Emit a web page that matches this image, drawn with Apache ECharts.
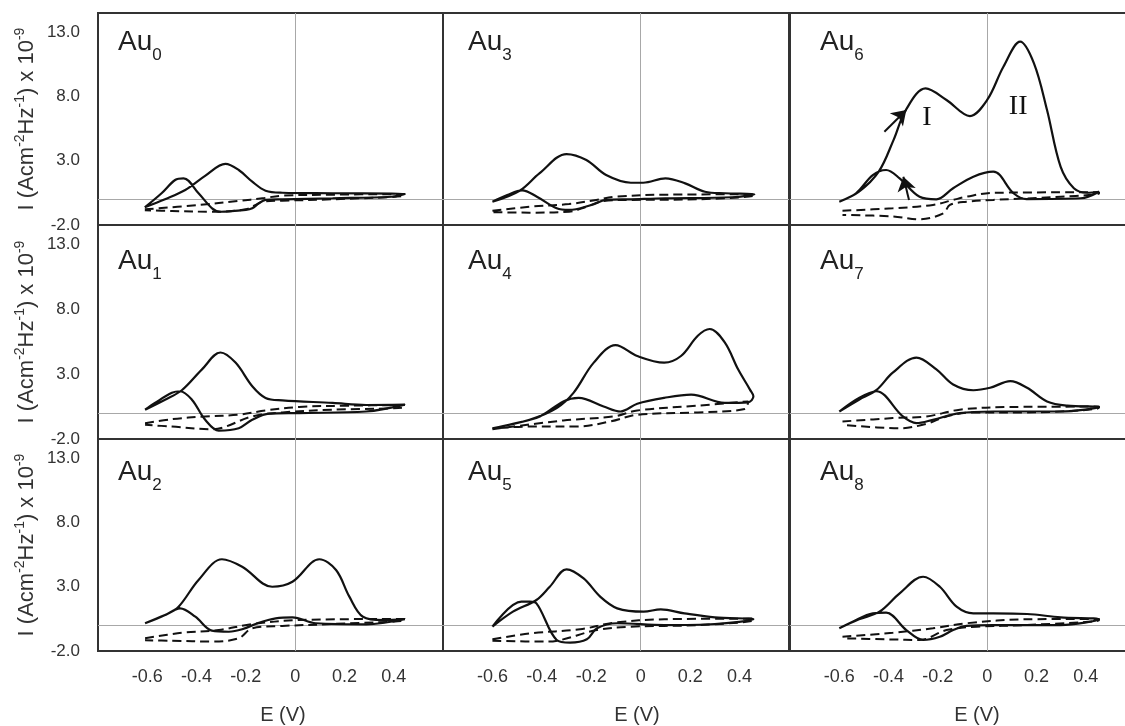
<!DOCTYPE html>
<html><head><meta charset="utf-8">
<script src="https://cdn.jsdelivr.net/npm/echarts@6/dist/echarts.min.js"></script>
<style>html,body{margin:0;padding:0;background:#fff}#c{width:1125px;height:726px}</style>
</head><body><div id="c"></div><script>
// ---- data: [E (V), I x 1e-9] ----
const au0Solid = [[-0.61,-0.62],[-0.528,0.0],[-0.446,0.72],[-0.364,1.84],[-0.283,2.75],[-0.229,2.28],[-0.174,1.37],[-0.12,0.67],[-0.052,0.51],[0.152,0.47],[0.445,0.41],
  [0.39,0.2],[0.152,0.08],[-0.052,0.0],[-0.12,-0.05],[-0.147,-0.31],[-0.174,-0.7],[-0.2,-0.83],[-0.303,-0.97],[-0.337,-0.70],[-0.392,0.47],[-0.453,1.63],[-0.487,1.5],[-0.542,0.47],[-0.61,-0.62]];
const au0Dashed = [[-0.61,-0.78],[-0.392,-0.44],[-0.229,-0.13],[-0.133,0.08],[-0.052,0.28],[0.152,0.36],[0.445,0.41],
  [0.445,0.3],[0.152,0.0],[-0.052,-0.11],[-0.133,-0.19],[-0.16,-0.44],[-0.2,-0.78],[-0.337,-0.97],[-0.5,-0.91],[-0.61,-0.85]];
const au1Solid = [[-0.609,0.26],[-0.528,1.03],[-0.46,1.76],[-0.378,3.37],[-0.303,4.67],[-0.242,3.89],[-0.174,2.07],[-0.12,1.17],[-0.052,0.98],[0.152,0.78],[0.288,0.62],[0.445,0.65],
  [0.288,0.12],[0.016,0.0],[-0.106,-0.05],[-0.174,-0.52],[-0.229,-1.17],[-0.31,-1.35],[-0.365,-0.52],[-0.419,1.03],[-0.467,1.68],[-0.5,1.56],[-0.569,0.78],[-0.609,0.26]];
const au1Dashed = [[-0.609,-0.78],[-0.5,-0.47],[-0.365,-0.26],[-0.229,-0.13],[-0.12,0.2],[0.016,0.47],[0.22,0.57],[0.445,0.62],
  [0.445,0.45],[0.152,0.26],[-0.052,0.05],[-0.174,-0.26],[-0.338,-1.25],[-0.5,-1.04],[-0.609,-0.91]];
const au2Solid = [[-0.609,0.16],[-0.528,0.8],[-0.473,1.45],[-0.392,3.53],[-0.297,5.14],[-0.215,4.56],[-0.093,3.0],[-0.011,3.39],[0.098,5.14],[0.166,4.3],[0.22,2.23],[0.275,0.67],[0.357,0.41],[0.445,0.47],
  [0.288,0.08],[0.084,0.16],[-0.011,0.62],[-0.079,0.54],[-0.147,0.2],[-0.215,-0.31],[-0.269,-0.5],[-0.338,-0.42],[-0.405,0.67],[-0.467,1.32],[-0.528,0.8],[-0.609,0.16]];
const au2Dashed = [[-0.609,-1.01],[-0.46,-0.58],[-0.31,-0.37],[-0.174,0.1],[0.016,0.41],[0.445,0.5],
  [0.445,0.4],[0.152,0.1],[-0.052,-0.05],[-0.174,-0.23],[-0.229,-1.01],[-0.338,-1.27],[-0.5,-1.2],[-0.609,-1.17]];
const au3Solid = [[-0.60,-0.19],[-0.49,0.67],[-0.41,2.02],[-0.30,3.52],[-0.22,3.06],[-0.14,1.89],[-0.04,1.29],[0.01,1.29],[0.10,1.63],[0.18,1.24],[0.26,0.59],[0.34,0.47],[0.46,0.39],
  [0.37,0.16],[0.10,0.08],[-0.04,0.0],[-0.14,-0.05],[-0.20,-0.44],[-0.29,-0.83],[-0.34,-0.70],[-0.42,0.2],[-0.48,0.70],[-0.54,0.33],[-0.60,-0.19]];
const au3Dashed = [[-0.60,-0.89],[-0.45,-0.58],[-0.29,-0.37],[-0.18,-0.05],[-0.10,0.2],[0.10,0.36],[0.46,0.39],
  [0.46,0.30],[0.23,0.0],[-0.04,-0.05],[-0.15,-0.13],[-0.22,-0.58],[-0.29,-0.97],[-0.45,-1.04],[-0.60,-1.0]];
const au4Solid = [[-0.60,-1.17],[-0.45,-0.52],[-0.34,0.39],[-0.272,1.56],[-0.19,3.89],[-0.102,5.24],[-0.014,4.4],[0.095,3.89],[0.163,4.4],[0.231,5.96],[0.279,6.48],[0.34,5.45],[0.394,3.37],[0.442,1.81],[0.456,1.29],
  [0.435,0.83],[0.34,0.78],[0.204,1.42],[0.095,1.17],[-0.014,0.72],[-0.082,0.12],[-0.15,0.51],[-0.251,1.17],[-0.313,0.9],[-0.408,-0.26],[-0.517,-0.83],[-0.60,-1.17]];
const au4Dashed = [[-0.60,-1.25],[-0.313,-0.57],[-0.109,-0.26],[-0.014,0.2],[0.231,0.57],[0.435,0.9],
  [0.421,0.31],[0.231,0.05],[-0.014,-0.13],[-0.123,-0.65],[-0.259,-1.04],[-0.45,-1.04],[-0.60,-1.20]];
const au5Solid = [[-0.60,-0.11],[-0.517,1.06],[-0.422,1.97],[-0.368,3.0],[-0.30,4.36],[-0.231,3.65],[-0.164,2.23],[-0.095,1.32],[0.012,1.06],[0.081,1.24],[0.177,0.93],[0.30,0.62],[0.456,0.47],
  [0.30,0.1],[0.095,0.02],[-0.095,0.16],[-0.177,-0.23],[-0.218,-1.09],[-0.286,-1.35],[-0.34,-1.14],[-0.422,1.71],[-0.449,1.84],[-0.483,1.84],[-0.60,-0.11]];
const au5Dashed = [[-0.60,-1.09],[-0.449,-0.63],[-0.245,-0.31],[-0.109,0.2],[0.095,0.47],[0.456,0.52],
  [0.456,0.40],[0.231,0.02],[-0.041,-0.11],[-0.177,-0.37],[-0.381,-1.27],[-0.60,-1.2]];
const au6Solid = [[-0.60,-0.19],[-0.52,0.59],[-0.44,2.15],[-0.38,4.61],[-0.33,6.95],[-0.25,8.63],[-0.165,7.73],[-0.07,6.48],[0.0,7.73],[0.066,10.32],[0.134,12.27],[0.19,10.58],[0.243,6.95],[0.298,2.54],[0.352,0.86],[0.406,0.51],[0.454,0.59],
  [0.38,0.08],[0.16,0.02],[0.107,0.47],[0.025,2.15],[-0.056,1.76],[-0.138,0.86],[-0.206,0.0],[-0.274,0.2],[-0.355,1.63],[-0.41,2.28],[-0.464,1.89],[-0.532,0.47],[-0.60,-0.19]];
const au6Dashed = [[-0.587,-0.89],[-0.383,-0.70],[-0.22,-0.44],[-0.138,-0.05],[-0.084,0.2],[0.025,0.51],[0.454,0.55],
  [0.454,0.45],[0.298,0.2],[0.025,-0.05],[-0.084,-0.19],[-0.151,-0.44],[-0.178,-1.09],[-0.274,-1.56],[-0.383,-1.33],[-0.587,-1.22]];
const au7Solid = [[-0.60,0.12],[-0.52,1.03],[-0.45,1.76],[-0.383,3.11],[-0.287,4.28],[-0.206,3.37],[-0.138,2.2],[-0.056,1.76],[0.012,1.95],[0.094,2.46],[0.162,1.95],[0.243,0.9],[0.325,0.57],[0.454,0.47],
  [0.298,0.12],[0.025,0.12],[-0.111,0.0],[-0.22,-0.52],[-0.287,-0.78],[-0.342,-0.26],[-0.45,1.68],[-0.52,1.17],[-0.60,0.12]];
const au7Dashed = [[-0.587,-0.65],[-0.383,-0.39],[-0.246,-0.26],[-0.111,0.26],[0.094,0.47],[0.454,0.50],
  [0.454,0.40],[0.162,0.05],[-0.056,0.05],[-0.165,-0.26],[-0.246,-0.83],[-0.355,-1.17],[-0.587,-0.91]];
const au8Solid = [[-0.60,-0.23],[-0.52,0.47],[-0.437,1.06],[-0.355,2.49],[-0.26,3.78],[-0.192,3.0],[-0.124,1.45],[-0.056,0.93],[0.025,0.93],[0.162,0.88],[0.298,0.62],[0.454,0.47],
  [0.298,0.02],[0.025,0.02],[-0.084,-0.05],[-0.138,-0.37],[-0.192,-0.89],[-0.26,-1.14],[-0.328,-0.37],[-0.41,0.98],[-0.464,0.93],[-0.546,0.28],[-0.60,-0.23]];
const au8Dashed = [[-0.587,-0.89],[-0.383,-0.58],[-0.22,-0.23],[-0.084,0.16],[0.162,0.47],[0.454,0.50],
  [0.454,0.40],[0.162,0.02],[-0.043,-0.11],[-0.165,-0.37],[-0.274,-1.14],[-0.41,-1.09],[-0.587,-1.01]];

// Au6 annotations (arrows along scan direction, peak labels)
const au6Arrows = [[[-0.417,5.26],[-0.328,6.95]],[[-0.317,-0.05],[-0.34,1.76]]];
const au6PeakLabels = [['I',-0.244,6.33],['II',0.126,7.18]];

const panelNames = ['0','1','2','3','4','5','6','7','8'];
const solidSets = [au0Solid,au1Solid,au2Solid,au3Solid,au4Solid,au5Solid,au6Solid,au7Solid,au8Solid];
const dashedSets = [au0Dashed,au1Dashed,au2Dashed,au3Dashed,au4Dashed,au5Dashed,au6Dashed,au7Dashed,au8Dashed];
const xTickLabels = [-0.6,-0.4,-0.2,0,0.2,0.4];
const yTickLabels = [-2,3,8,13];

// ---- layout ----
const FONT = 'Liberation Sans, Arial, sans-serif';
const colLeft = [98,443,790], colWidth = [345,346,345];
const rowTop = [13,225,439], rowHeight = [212,214,212];
const labelLeft = [118,468,820], labelTop = [21,240,451];
const eLabelX = [283,637,977];

const grids=[], xAxes=[], yAxes=[], series=[], graphics=[];
for (let k=0;k<9;k++){
  const col = Math.floor(k/3), row = k%3;
  grids.push({left:colLeft[col], top:rowTop[row], width:colWidth[col], height:rowHeight[row],
    outerBoundsMode:'none', containLabel:false,
    show:true, borderColor:'#333', borderWidth:2, backgroundColor:'transparent'});
  xAxes.push({type:'value', gridIndex:k, min:-0.8, max:0.6, interval:0.2,
    axisLine:{show:false}, axisTick:{show:false}, splitLine:{show:false},
    axisLabel:{show: row===2, margin:17, color:'#333', fontSize:18, fontFamily:FONT,
      formatter:v=>{const r=Math.round(v*10)/10; if(!xTickLabels.includes(r)) return ''; return r===0?'0':r.toFixed(1);}}});
  yAxes.push({type:'value', gridIndex:k, min:-2, max:14.5, interval:5,
    axisLine:{show:false}, axisTick:{show:false}, splitLine:{show:false},
    axisLabel:{show: col===0, margin:18, color:'#333', fontSize:17, fontFamily:FONT,
      showMaxLabel:false,
      formatter:v=>yTickLabels.includes(Math.round(v))?v.toFixed(1):''},
    name: col===0 ? 'I (Acm{s|-2}Hz{s|-1}) x 10{s|-9}' : '',
    nameLocation:'middle', nameGap:58, nameRotate:90,
    nameTextStyle:{color:'#333', fontSize:22, fontFamily:FONT,
      rich:{s:{fontSize:14, fontFamily:FONT, color:'#333', padding:[0,0,13,0]}}}});
  series.push({type:'line', xAxisIndex:k, yAxisIndex:k, data:dashedSets[k], smooth:0.35, symbol:'none',
    lineStyle:{color:'#111', width:2, type:[9,5]}, z:3,
    markLine:{silent:true, symbol:'none', label:{show:false}, z:1,
      lineStyle:{color:'#a8a8a8', width:1, type:'solid'}, data:[{yAxis:0},{xAxis:0}]}});
  const s = {type:'line', xAxisIndex:k, yAxisIndex:k, data:solidSets[k], smooth:0.35, symbol:'none',
    lineStyle:{color:'#111', width:2.2}, z:4};
  if (k===6){
    s.markLine = {silent:true, symbol:['none','arrow'], symbolSize:14, label:{show:false},
      lineStyle:{color:'#111', width:2, type:'solid'},
      data: au6Arrows.map(a=>[{coord:a[0]},{coord:a[1]}])};
    s.markPoint = {silent:true, symbol:'circle', symbolSize:1, itemStyle:{color:'rgba(0,0,0,0)'},
      data: au6PeakLabels.map(p=>({coord:[p[1],p[2]], value:p[0],
        label:{show:true, position:'inside', formatter:p[0], color:'#111', fontSize:28, fontFamily:'Liberation Serif, Times New Roman, serif'}}))};
  }
  series.push(s);
  graphics.push({type:'text', x:labelLeft[col], y:labelTop[row], z:10,
    style:{text:'{a|Au}{s|'+panelNames[k]+'}', rich:{
      a:{fontSize:28, fontFamily:FONT, fill:'#222'},
      s:{fontSize:17, fontFamily:FONT, fill:'#222', padding:[26,0,0,0]}}}});
}
for (let c=0;c<3;c++){
  graphics.push({type:'text', x:eLabelX[c], y:715, z:10,
    style:{text:'E (V)', fontSize:20, fontFamily:FONT, fill:'#333', align:'center', verticalAlign:'middle'}});
}

const chart = echarts.init(document.getElementById('c'));
chart.setOption({animation:false, backgroundColor:'#fff', grid:grids, xAxis:xAxes, yAxis:yAxes, series:series, graphic:graphics});
</script></body></html>
